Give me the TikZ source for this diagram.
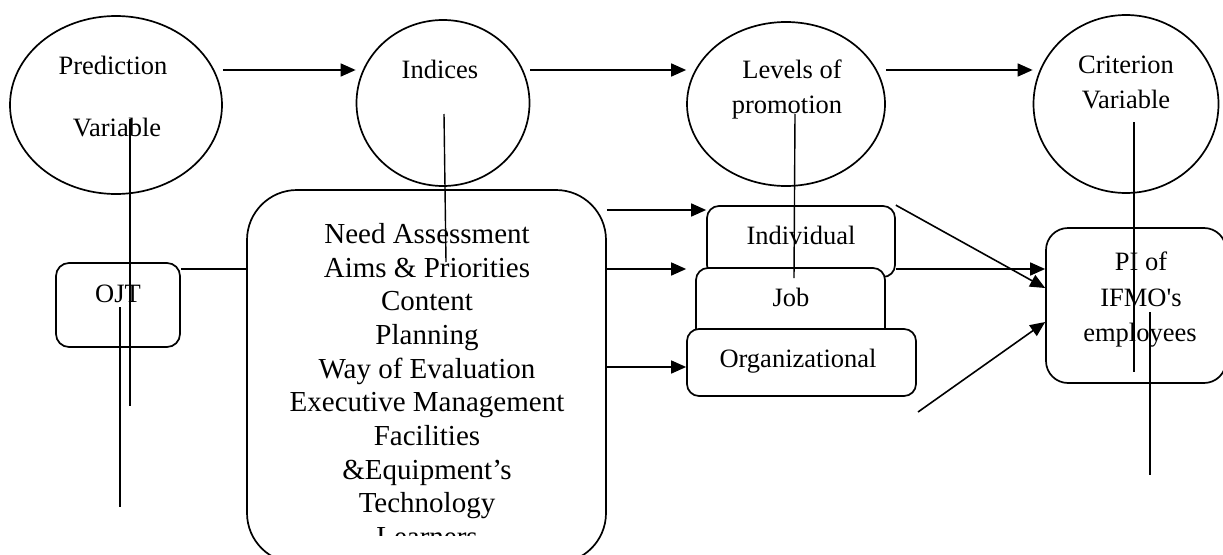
\documentclass[tikz,border=0pt]{standalone}
\usepackage{fontspec}
\setmainfont{Liberation Serif}[Ligatures=TeXOff]
\usetikzlibrary{shapes.geometric,arrows.meta}

\tikzset{
	bubble/.style={draw, ellipse, line width=1.7pt, inner sep=0pt},
	roundbox/.style={draw, rectangle, rounded corners=#1, line width=1.7pt, fill=white, inner sep=0pt},
	roundbox/.default=12pt,
	lbl/.style={font=\fontsize{26.5}{35.5}\selectfont, inner sep=0pt, anchor=base},
	bigtxt/.style={font=\fontsize{29}{33.7}\selectfont, align=center, inner sep=0pt, anchor=north},
	arr/.style={line width=1.6pt, -{Triangle[length=15pt,width=13pt]}},
	stray/.style={line width=1.4pt},
}

\begin{document}
\begin{tikzpicture}[x=1pt,y=-1pt]
	%%%%% START %%%%%
	\useasboundingbox (0,0) rectangle (1223,554);
	\clip (0,0) rectangle (1223,554);
	
	% the four variables on top
	\node[bubble, minimum width=212pt, minimum height=178pt] (pred) at (116,105) {};
	\node[bubble, minimum width=173pt, minimum height=166pt] (idx) at (443,103) {};
	\node[bubble, minimum width=198pt, minimum height=164pt] (lev) at (786,104) {};
	\node[bubble, minimum width=185pt, minimum height=178pt] (crit) at (1126,104) {};
	
	\node[lbl] (pred-a) at (113,74) {Prediction};
	\node[lbl] (pred-b) at (117,136) {Variable};
	\node[lbl] (idx-a) at (440,78) {Indices};
	\node[lbl] (lev-a) at (792,78) {Levels of};
	\node[lbl] (lev-b) at (787,113) {promotion};
	\node[lbl] (crit-a) at (1126,73) {Criterion};
	\node[lbl] (crit-b) at (1126,108) {Variable};
	
	\draw[arr] (pred.east |- 0,70) -- (idx.west |- 0,70);
	\draw[arr] (idx.east |- 0,70) -- (lev.west |- 0,70);
	\draw[arr] (lev.east |- 0,70) -- (crit.west |- 0,70);
	
	% OJT and the list of indices
	\node[roundbox=13pt, minimum width=124pt, minimum height=84pt] (ojt) at (118,305) {};
	\node[lbl] (ojt-a) at (118,302) {OJT};
	
	\node[roundbox=50pt, minimum width=359pt, minimum height=373pt] (big) at (426.5,376.5) {};
	\begin{scope}
		\clip (247,190) rectangle (606,535);
		\node[bigtxt] (big-txt) at (427,223) {Need Assessment\\Aims \& Priorities\\Content\\Planning\\Way of Evaluation\\Executive Management\\Facilities\\\&Equipment’s\\Technology\\Learners};
	\end{scope}
	
	\draw[line width=1.6pt] (ojt.east |- 0,269) -- (big.west |- 0,269);
	
	% levels of promotion
	\node[roundbox, minimum width=188pt, minimum height=71pt] (ind) at (801,241.5) {};
	\node[roundbox, minimum width=189pt, minimum height=77pt] (job) at (790.5,306.5) {};
	\node[roundbox, minimum width=229pt, minimum height=67pt] (org) at (801.5,362.5) {};
	\node[lbl] (ind-a) at (801,244) {Individual};
	\node[lbl] (job-a) at (791,306) {Job};
	\node[lbl] (org-a) at (798,367) {Organizational};
	
	\draw[arr] (big.east |- 0,210) -- (ind.west |- 0,210);
	\draw[arr] (big.east |- 0,269) -- (org.west |- 0,269);
	\draw[arr] (big.east |- 0,367) -- (org.west |- 0,367);
	
	% criterion
	\node[roundbox=22pt, minimum width=180pt, minimum height=155pt] (pi) at (1136,305.5) {};
	\node[lbl] (pi-a) at (1141,270) {PI of};
	\node[lbl] (pi-b) at (1141,306) {IFMO's};
	\node[lbl] (pi-c) at (1140,341) {employees};
	
	\coordinate (lowtail) at (918,412);
	\draw[arr] (ind.east |- 0,269) -- (pi.west |- 0,269);
	\draw[arr] (ind.north east) -- (pi.west |- 0,288);
	\draw[arr] (lowtail) -- (pi.west |- 0,322);
	
	% loose vertical lines
	\draw[stray] (130,119) -- (130,406);
	\draw[stray] (120,307) -- (120,507);
	\draw[stray] (444,114) -- (446,262);
	\draw[stray] (795,114) -- (794,278);
	\draw[stray] (1134,122) -- (1134,372);
	\draw[stray] (1150,312) -- (1150,475);
	%%%%% END %%%%%
\end{tikzpicture}
\end{document}
